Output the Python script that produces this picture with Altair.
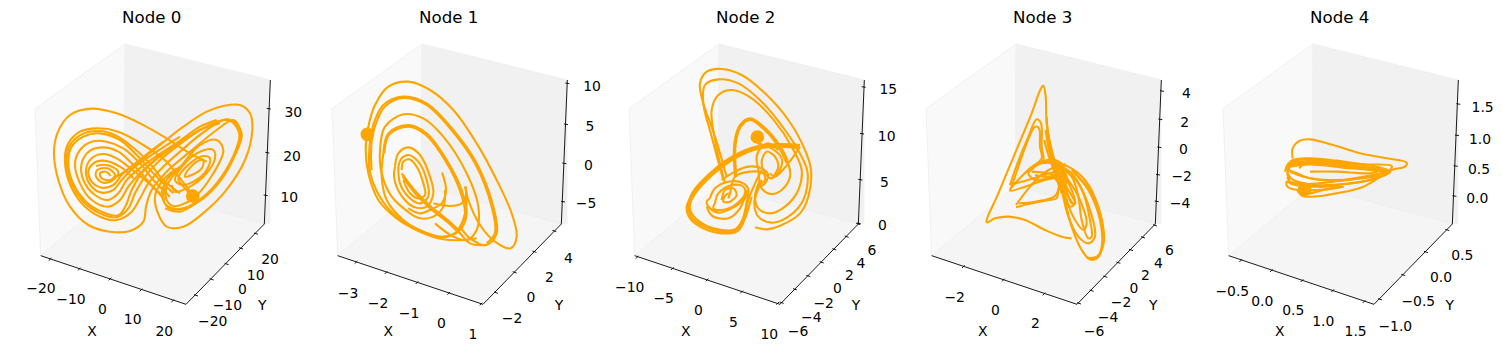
import altair as alt
import pandas as pd

# All positions are in one "projected" unit system for each panel (3 units = 1 pixel).
NODES = ["Node 0", "Node 1", "Node 2", "Node 3", "Node 4"]
U0 = [-36, -45, -39, -48, -42]
SHIFT = [0, -9, -3, -12, -6]
COLOR = "#ffa500"

# box corners (panel 0)
TL = (45, 236); TB = (315, 42); TR = (751, 150); BR = (733, 582); BF = (498, 823); BL = (62, 677); BB = (313, 468)

DOTS = [(518, 498), (142, 313), (427, 321), (437, 440), (284, 478)]

XT = [
    [(90,688),(178,717),(270,747),(363,780),(458,813)],
    [(108,697),(198,728),(291,758),(386,790),(483,822)],
    [(66,682),(172,716),(276,750),(380,786),(488,820)],
    [(145,710),(265,750),(387,792)],
    [(92,692),(184,722),(276,752),(368,782),(462,815)],
]
YT = [
    [(528,796),(575,748),(620,702),(663,655),(708,611)],
    [(528,788),(584,727),(643,665),(703,603)],
    [(500,818),(540,778),(580,738),(620,697),(658,658),(695,620),(730,582)],
    [(492,820),(530,782),(571,740),(610,698),(648,660),(684,622),(720,586)],
    [(510,808),(580,735),(648,666),(712,600)],
]
ZT = [
    [(737,496),(742,368),(746,236)],
    [(742,160),(738,283),(733,400),(729,515)],
    [(746,171),(741,311),(736,449),(731,580)],
    [(741,183),(736,268),(733,352),(729,434),(725,514)],
    [(745,222),(741,316),(737,408),(733,498)],
]
LABELS = [
    [("−20",63,778),("−10",153,811),("0",247,841),("10",338,871),("20",433,905),
     ("−20",578,877),("−10",622,829),("0",667,781),("10",707,737),("20",750,690),
     ("10",808,503),("20",816,380),("30",820,248),("X",216,906),("Y",727,829)],
    [("−3",84,791),("−2",174,822),("−1",267,851),("0",364,882),("1",459,916),
     ("−2",576,868),("0",633,805),("2",688,745),("4",745,688),
     ("10",816,171),("5",810,292),("0",805,408),("−5",798,522),("X",205,906),("Y",717,829)],
    [("−10",44,775),("−5",146,808),("0",250,844),("5",355,880),("10",463,916),
     ("−6",549,905),("−4",589,864),("−2",626,822),("0",667,777),("2",703,738),("4",738,701),("6",771,664),
     ("15",820,180),("10",815,320),("5",808,458),("0",802,589),("X",212,906),("Y",723,829)],
    [("−2",119,803),("0",241,844),("2",361,883),
     ("−6",537,905),("−4",579,863),("−2",618,820),("0",657,777),("2",691,738),("4",730,701),("6",763,664),
     ("4",814,193),("2",809,278),("0",805,360),("−2",800,441),("−4",795,522),("X",203,906),("Y",715,829)],
    [("−0.5",67,785),("0.0",157,815),("0.5",250,844),("1.0",340,877),("1.5",437,906),
     ("−1.0",556,891),("−0.5",625,817),("0.0",693,745),("0.5",757,678),
     ("1.5",818,233),("1.0",810,329),("0.5",807,420),("0.0",802,507),("X",209,906),("Y",719,829)],
]

P0 = [
 [(560,395),(510,370),(440,325),(360,280),(290,250),(215,236),(150,255),(112,310),(102,370),(115,450),(150,530),(205,585),(270,605),(330,603),(370,575),(378,530),(395,480),(440,425),(510,365),(590,300),(640,270),(662,305),(650,360),(610,440),(550,505),(490,535),(445,530),(425,495),(440,450),(480,410)],
 [(290,440),(350,400),(420,345),(490,290),(560,245),(610,228),(660,225),(690,250),(697,300),(675,390),(615,485),(555,545),(490,590),(440,590),(412,545),(405,500),(425,455),(470,415)],
 [(515,490),(480,445),(440,395),(370,345),(295,305),(230,295),(180,305),(145,340),(135,380),(145,450),(185,520),(240,560),(290,570),(335,545),(360,505),(385,460),(420,420),(480,365),(560,300),(625,268),(665,310),(645,375),(595,455),(535,512),(480,538),(440,528),(430,490),(450,450),(490,400),(540,345),(590,330),(610,360),(580,430),(520,505),(460,528),(438,505),(440,470)],
 [(480,490),(430,450),(385,395),(330,345),(285,315),(235,303),(185,313),(150,345),(140,385),(150,450),(190,515),(240,550),(290,562),(325,535),(345,490),(375,440),(415,395),(470,350),(540,300),(610,270),(635,275),(658,312),(640,378),(590,460),(530,518),(480,545),(435,535)],
 [(460,490),(405,435),(350,375),(300,330),(240,310),(190,320),(155,350),(145,390),(155,450),(195,512),(245,545),(295,556),(318,525),(335,480),(365,430),(410,385),(470,340),(540,290),(590,270)],
 [(450,500),(400,450),(360,400),(310,355),(260,335),(215,335),(180,360),(165,400),(180,460),(215,510),(265,530),(300,510),(325,470),(355,435),(400,395),(470,345),(540,300),(600,280)],
 [(435,510),(390,460),(340,405),(295,365),(250,352),(210,362),(185,400),(190,450),(225,495),(265,510),(295,490),(320,450),(365,410),(430,365),(510,315)],
 [(420,490),(375,450),(325,410),(290,385),(250,372),(215,385),(198,420),(208,460),(240,487),(280,480),(305,450),(345,410),(410,365),(480,320)],
 [(340,445),(300,410),(250,392),(220,400),(205,425),(215,455),(245,473),(280,465),(305,435),(365,385),(430,335)],
 [(228,408),(260,405),(295,425),(280,450),(250,458),(228,440),(232,420),(262,415),(285,435),(270,450),(245,445),(240,430),(258,425),(272,438)],
 [(518,498),(490,470),(475,445),(510,400),(550,378),(570,385),(560,420),(520,455),(485,465),(465,450),(490,405),(540,365),(580,360),(585,385),(555,435),(500,475),(465,485),(455,465)],
 [(500,425),(530,395),(550,390),(545,415),(515,435),(495,440),(500,425)],
]
P1 = [
 [(436,470),(445,510),(480,585),(525,635),(572,655),(590,620),(575,550),(530,450),(470,340),(400,240),(330,180),(265,155),(205,170),(165,225),(145,290),(137,360),(145,430),(175,510),(230,565),(300,605),(370,628),(430,630),(470,625)],
 [(150,430),(147,380),(152,320),(165,270),(190,225),(250,200),(320,220),(400,300),(470,400),(520,530),(530,610),(500,645),(450,625),(420,590)],
 [(155,420),(153,375),(157,320),(170,275),(194,230),(250,204),(318,224),(397,303),(466,402),(515,530),(525,608),(500,640)],
 [(145,400),(160,460),(200,530),(250,575),(310,605),(370,622),(410,605),(430,570),(440,510),(436,470)],
 [(270,550),(215,500),(185,430),(180,360),(195,290),(250,253),(310,265),(370,320),(440,430),(475,530),(470,600),(440,630),(400,620),(345,580)],
 [(190,370),(205,310),(265,285),(320,310),(380,390),(425,480),(440,550),(420,600),(370,620),(310,605),(250,570),(200,510),(185,440),(190,370)],
 [(193,370),(208,313),(265,290),(317,314),(376,392),(420,482),(435,550),(416,597)],
 [(225,410),(235,370),(265,352),(300,375),(330,440),(340,490),(320,530),(280,530),(240,490),(222,440),(225,410)],
 [(235,410),(245,385),(265,375),(295,395),(320,450),(325,500),(300,520),(265,500),(240,460),(235,410)],
 [(245,420),(250,395),(268,388),(290,410),(310,460),(315,495),(295,505),(270,490),(250,450)],
 [(245,430),(280,480),(330,530),(380,570),(420,610),(450,640),(500,645)],
 [(250,436),(285,482),(335,532),(385,572),(420,605)],
 [(248,440),(282,486),(332,536),(382,576),(416,608)],
 [(366,428),(378,480),(365,520),(340,535),(300,550),(265,535)],
 [(340,520),(390,528),(425,520),(438,500),(436,470)],
 [(270,550),(300,565),(340,560),(370,530),(375,480)],
]
P2 = [
 [(335,440),(300,320),(262,210),(255,160),(275,125),(320,117),(380,135),(450,190),(520,270),(570,360),(588,420),(580,500),(555,550),(500,585),(455,598),(420,592)],
 [(325,450),(290,320),(265,220),(270,165),(310,148),(370,160),(440,215),(510,300),(560,380),(578,430),(565,510),(520,560),(470,578),(430,560),(418,520),(432,470),(440,450)],
 [(330,460),(300,330),(290,240),(310,195),(350,180),(410,205),(480,275),(530,350),(560,420),(550,480),(510,530),(465,550),(430,535),(420,500),(435,450)],
 [(555,350),(500,345),(430,352),(360,380),(290,430),(235,490),(215,530),(225,565),(265,595),(320,610),(365,605),(385,575),(400,510),(425,450),(440,420)],
 [(555,345),(500,342),(430,348),(360,375),(290,425),(232,488),(220,530),(230,562),(268,590),(320,605),(370,600),(390,565),(410,500)],
 [(550,355),(500,350),(430,356),(362,384),(293,434),(240,492),(224,530),(235,558),(272,586),(320,600),(360,598),(382,570),(396,510)],
 [(555,350),(520,400),(480,440),(465,430)],
 [(360,440),(358,340),(375,285),(405,265),(440,285),(490,340),(520,400),(525,440),(500,480),(470,492),(440,475),(430,420),(425,380),(440,350),(460,340),(490,360)],
 [(364,440),(362,342),(378,289),(405,270),(437,289),(486,343),(515,400)],
 [(427,340),(470,355),(500,385),(495,420),(470,445),(450,430),(440,395),(455,365),(480,380),(490,410),(475,440)],
 [(285,505),(300,475),(340,455),(385,460),(400,480),(385,510),(350,535),(310,548),(285,535),(275,515),(285,505)],
 [(300,520),(310,490),(350,465),(385,470),(390,490),(360,525),(320,540),(295,535),(300,520)],
 [(320,510),(330,480),(355,475),(365,495),(345,515),(325,515),(332,495),(345,490)],
 [(320,450),(360,425),(400,410),(440,415),(460,435),(445,465),(430,470)],
 [(340,505),(345,490),(360,440),(405,425),(445,430),(450,450),(430,465)],
 [(275,530),(292,558),(340,565),(375,535),(395,480)],
 [(400,480),(392,540),(372,592),(330,606)],
]
P3 = [
 [(470,625),(440,620),(390,600),(330,570),(280,560),(240,565),(215,577),(250,490),(300,370),(350,250),(378,175),(385,167),(392,200),(395,280),(410,370),(430,430),(450,510),(470,590),(500,660),(525,688),(550,680),(565,620),(550,530),(510,450),(460,410),(420,400),(380,400),(340,420),(330,430)],
 [(285,465),(300,420),(340,320),(365,268),(378,280),(380,350),(385,390),(360,410),(340,430),(360,450),(420,440),(445,450)],
 [(285,482),(300,440),(335,340),(360,290),(372,295),(375,350),(380,385),(340,420),(300,460),(285,482),(330,470),(390,450),(440,440)],
 [(290,462),(320,455),(370,440),(430,420),(450,400)],
 [(303,525),(345,470),(385,430),(430,410),(470,440),(490,500),(500,570),(520,625),(530,620),(525,570),(505,490),(470,430),(440,410)],
 [(303,532),(350,520),(400,510),(425,505),(430,480),(440,450),(460,480),(480,520),(470,520),(450,470),(430,430)],
 [(310,520),(360,515),(420,498),(432,470)],
 [(395,260),(398,300),(410,360),(425,420),(440,480),(460,560),(490,620),(520,640),(540,620),(525,540),(490,460),(450,420)],
 [(398,300),(405,350),(425,420),(450,500),(480,570),(505,600),(515,580),(495,510),(460,450),(435,420)],
 [(392,300),(402,360),(420,420),(436,480)],
 [(400,320),(412,370),(430,425),(446,490)],
 [(388,330),(400,375),(420,430),(440,490)],
 [(432,400),(445,470),(465,530),(480,520),(470,480),(450,440),(435,420)],
 [(425,395),(440,440),(460,500),(473,520)],
 [(418,400),(440,410),(455,450),(440,480),(425,440),(430,405)],
 [(525,688),(545,685),(560,650),(555,570),(520,480),(470,420)],
 [(515,683),(545,680),(566,640),(560,570),(525,480),(475,425)],
 [(345,415),(380,395),(420,390),(445,410),(440,440),(400,430),(350,425)],
 [(335,425),(370,400),(420,400),(445,425),(400,440),(360,435)],
]
P4 = [
 [(248,385),(248,355),(270,332),(300,328),(370,345),(450,370),(530,385),(590,398),(585,410),(545,420),(460,470),(380,490),(310,500),(275,497),(262,480)],
 [(232,415),(245,392),(300,385),(380,392),(460,403),(545,408),(540,420),(470,440),(380,452),(300,445),(250,425),(230,420)],
 [(232,430),(250,395),(300,388),(400,398),(500,410),(540,425),(480,450),(400,462),(320,465),(250,450),(232,430)],
 [(225,425),(238,400),(300,398),(400,408),(500,418),(535,428),(470,452),(380,465),(300,470),(245,462),(230,455),(232,470),(262,480),(320,480),(400,470)],
 [(240,410),(300,403),(400,413),(480,420),(530,430),(460,445),(360,450),(280,440),(240,425)],
 [(245,402),(300,393),(400,403),(490,414),(535,424)],
 [(245,406),(300,398),(400,408),(490,418),(530,428)],
 [(268,415),(290,395),(340,392),(420,408),(500,425),(470,430),(380,425),(300,425)],
 [(265,485),(285,470),(340,470),(400,470),(340,480),(285,492),(265,485)],
 [(232,440),(240,455),(290,462),(370,455),(460,440),(540,425)],
 [(228,420),(232,405),(250,390),(240,410),(232,430),(240,450)],
]
CURVES = [P0, P1, P2, P3, P4]


def panel(i):
    s = SHIFT[i]
    u0 = U0[i]
    xs = alt.Scale(domain=[u0, u0 + 891], nice=False, zero=False)
    ys = alt.Scale(domain=[945, -66], nice=False, zero=False)
    X = lambda f="u": alt.X(f"{f}:Q", scale=xs, axis=None)
    Y = lambda f="v": alt.Y(f"{f}:Q", scale=ys, axis=None)
    sh = lambda p: (p[0] + s, p[1])

    def edge_y(a, b, u):
        return a[1] + (b[1] - a[1]) * (u - a[0]) / (b[0] - a[0])

    tl, tb, tr, br, bf, bl, bb = map(sh, (TL, TB, TR, BR, BF, BL, BB))
    left = pd.DataFrame({"u": [tl[0], bl[0], bb[0], tb[0]],
                         "v": [tl[1], edge_y(tl, tb, bl[0]), tb[1], tb[1]],
                         "v2": [edge_y(tl, bl, tl[0]), bl[1], bb[1], edge_y(bl, bb, tb[0])]})
    back = pd.DataFrame({"u": [tb[0], br[0], tr[0]],
                         "v": [tb[1], edge_y(tb, tr, br[0]), tr[1]],
                         "v2": [edge_y(bb, br, tb[0]), br[1], br[1]]})
    floor = pd.DataFrame({"u": [bl[0], bb[0], bf[0], br[0]],
                          "v": [bl[1], bb[1], edge_y(bb, br, bf[0]), br[1]],
                          "v2": [bl[1], edge_y(bl, bf, bb[0]), bf[1], br[1]]})
    layers = []
    for df, c in ((left, "#f9f9f9"), (back, "#f1f1f1"), (floor, "#f5f5f5")):
        layers.append(alt.Chart(df).mark_area(color=c, opacity=1, line=False).encode(
            x=X(), y=Y(), y2="v2:Q"))

    faint = pd.DataFrame([dict(zip(("u", "v", "u2", "v2"), (*a, *b))) for a, b in
                          ((tl, tb), (tb, tr), (tb, bb), (bl, bb), (bb, br), (tl, bl))])
    layers.append(alt.Chart(faint).mark_rule(color="#ededed", strokeWidth=0.8).encode(
        x=X(), y=Y(), x2="u2:Q", y2="v2:Q"))

    lines = [(bl, bf), (bf, br), (br, tr)]
    rows = [dict(u=a[0], v=a[1], u2=b[0], v2=b[1]) for a, b in lines]
    for t in XT[i]:
        rows.append(dict(u=t[0] - 4, v=t[1] + 4, u2=t[0] + 4, v2=t[1] - 4))
    for t in YT[i]:
        rows.append(dict(u=t[0] - 6, v=t[1] - 2, u2=t[0] + 6, v2=t[1] + 2))
    for t in ZT[i]:
        rows.append(dict(u=t[0] - 6, v=t[1] - 1, u2=t[0] + 6, v2=t[1] + 1))
    layers.append(alt.Chart(pd.DataFrame(rows)).mark_rule(color="black", strokeWidth=0.9).encode(
        x=X(), y=Y(), x2="u2:Q", y2="v2:Q"))

    rows = [dict(strand=k, order=j, u=p[0], v=p[1]) for k, st in enumerate(CURVES[i]) for j, p in enumerate(st)]
    layers.append(alt.Chart(pd.DataFrame(rows)).mark_line(
        color=COLOR, strokeWidth=2.1, interpolate="catmull-rom").encode(
        x=X(), y=Y(), detail="strand:N", order="order:Q"))

    d = DOTS[i]
    layers.append(alt.Chart(pd.DataFrame([dict(u=d[0], v=d[1])])).mark_circle(
        color=COLOR, size=185, opacity=1).encode(x=X(), y=Y()))

    lab = pd.DataFrame([dict(t=t, u=a, v=b) for t, a, b in LABELS[i]])
    layers.append(alt.Chart(lab).mark_text(font="DejaVu Sans", fontSize=13.9, color="#000").encode(
        x=X(), y=Y(), text="t:N"))
    ttl = pd.DataFrame([dict(t=NODES[i], u=(151.7 - 20) * 3 + s, v=-37)])
    layers.append(alt.Chart(ttl).mark_text(font="DejaVu Sans", fontSize=16.67, color="#000").encode(
        x=X(), y=Y(), text="t:N"))
    return alt.layer(*layers).properties(width=297, height=337)


chart = alt.hconcat(*[panel(i) for i in range(5)], spacing=0, padding=0, bounds="flush").configure_view(stroke=None)
chart.save("out.html", embed_options={"renderer": "svg", "actions": False})
